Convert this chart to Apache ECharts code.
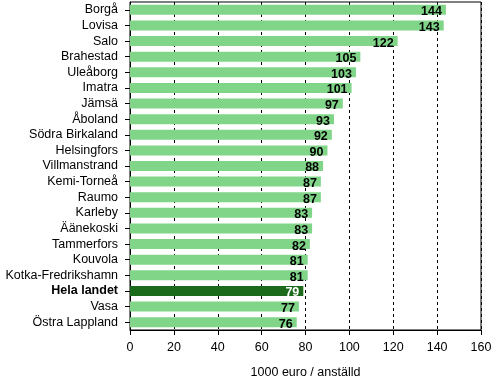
<!DOCTYPE html>
<html><head><meta charset="utf-8">
<script src="https://cdn.jsdelivr.net/npm/echarts@6/dist/echarts.min.js"></script>
<style>html,body{margin:0;padding:0;background:#fff}#c{width:492px;height:378px}</style>
</head><body><div id="c"></div>
<script>
const categories = ["Borgå","Lovisa","Salo","Brahestad","Uleåborg","Imatra","Jämsä","Åboland","Södra Birkaland","Helsingfors","Villmanstrand","Kemi-Torneå","Raumo","Karleby","Äänekoski","Tammerfors","Kouvola","Kotka-Fredrikshamn","Hela landet","Vasa","Östra Lappland"];
const values = [144,143,122,105,103,101,97,93,92,90,88,87,87,83,83,82,81,81,79,77,76];
const highlight = "Hela landet";
const axisName = "1000 euro / anställd";

const light = "#80D588", dark = "#1B6A1B";
const FF = 'Liberation Sans, Arial, sans-serif';
const chart = echarts.init(document.getElementById('c'), null, {renderer:'canvas'});
chart.setOption({
  animation:false,
  grid:{left:130,right:11,top:2,bottom:48,show:true,borderColor:'#000',borderWidth:1,containLabel:false,outerBoundsMode:'none'},
  xAxis:{type:'value',min:0,max:160,interval:20,
    name:axisName,nameLocation:'middle',nameGap:36,
    nameTextStyle:{color:'#000',fontSize:12.5,fontFamily:FF},
    axisLine:{show:true,lineStyle:{color:'#000',width:1}},
    axisTick:{show:true,length:5,lineStyle:{color:'#000'}},
    axisLabel:{color:'#000',fontSize:12.5,margin:11,fontFamily:FF},
    splitLine:{show:true,lineStyle:{color:'#000',type:[3,3],width:1}}
  },
  yAxis:{type:'category',data:categories,inverse:true,
    axisLine:{show:true,lineStyle:{color:'#000',width:1}},
    axisTick:{show:true,alignWithLabel:true,length:5,lineStyle:{color:'#000'}},
    axisLabel:{interval:0,margin:12,fontSize:12.5,fontFamily:FF,
      formatter:function(v){return v===highlight?'{b|'+v+'}':'{n|'+v+'}';},
      rich:{n:{color:'#000',fontSize:12.5,fontFamily:FF},
            b:{color:'#000',fontSize:12.5,fontWeight:'bold',fontFamily:FF}}}
  },
  series:[{type:'bar',barCategoryGap:'36%',
    data:values.map((v,i)=>({value:v,
      itemStyle:{color:categories[i]===highlight?dark:light},
      label:{color:categories[i]===highlight?'#fff':'#000'}})),
    label:{show:true,position:'insideRight',distance:4,offset:[0,2],fontSize:12.5,fontWeight:'bold',
      fontFamily:FF}
  }]
});
</script></body></html>
